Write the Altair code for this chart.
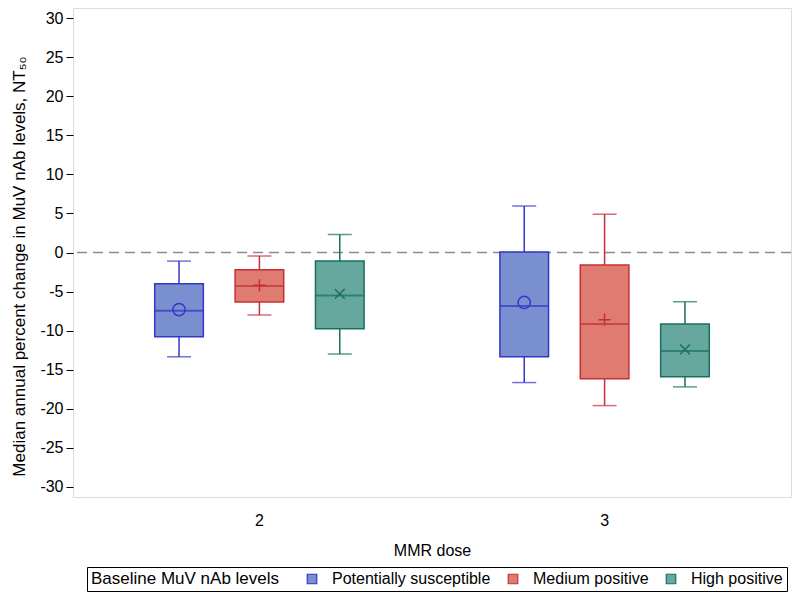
import altair as alt
import pandas as pd

# ---- data ----
doses = ["2", "2", "2", "3", "3", "3"]
groups = ["Potentially susceptible", "Medium positive", "High positive",
          "Potentially susceptible", "Medium positive", "High positive"]
whisker_low = [-13.35, -8.0, -13.0, -16.65, -19.6, -17.2]
q1 = [-10.8, -6.35, -9.75, -13.35, -16.15, -15.9]
median = [-7.45, -4.3, -5.5, -6.85, -9.15, -12.6]
q3 = [-4.0, -2.2, -1.1, 0.05, -1.6, -9.15]
whisker_high = [-1.1, -0.45, 2.3, 5.95, 4.9, -6.3]
mean = [-7.3, -4.2, -5.3, -6.4, -8.6, -12.4]

group_order = ["Potentially susceptible", "Medium positive", "High positive"]
fill_colors = ["#7a8fcf", "#e07b6f", "#66a89e"]
line_colors = ["#3535c8", "#c2303a", "#1a6e62"]
plus_path = "M-1,0L1,0M0,-1L0,1"
x_path = "M-0.8,-0.8L0.8,0.8M-0.8,0.8L0.8,-0.8"
mean_shapes = ["circle", plus_path, x_path]
y_ticks = list(range(-30, 31, 5))

df = pd.DataFrame({
    "dose": doses, "group": groups, "wlo": whisker_low, "q1": q1,
    "median": median, "q3": q3, "whi": whisker_high, "mean": mean,
})

FONT = "Liberation Sans"

x_enc = alt.X("dose:N", scale=alt.Scale(paddingInner=0, paddingOuter=0.04),
              axis=alt.Axis(labelAngle=0, ticks=False, domain=False, labelFontSize=16,
                            labelPadding=15, title="MMR dose", titleFontSize=16,
                            titlePadding=14, titleFontWeight="normal",
                            labelColor="black", titleColor="black"))
xo_enc = alt.XOffset("group:N", sort=group_order,
                     scale=alt.Scale(domain=group_order, paddingInner=0.395, paddingOuter=0.845))
y_scale = alt.Scale(domain=[-31.3, 31.3], nice=False, zero=False)
y_axis = alt.Axis(values=y_ticks, grid=False, domain=False, tickSize=7, tickColor="black",
                  labelFontSize=16, labelColor="black", labelPadding=3,
                  labelExpr="toString(datum.value)",
                  title="Median annual percent change in MuV nAb levels, NT₅₀",
                  titleFontSize=17, titleFontWeight="normal", titleColor="black",
                  titlePadding=11, titleY=258)
# data-derived (sorted) domain so the hidden legends do not swallow the shown one
col_enc = alt.Color("group:N", sort=group_order, scale=alt.Scale(range=line_colors), legend=None)

base = alt.Chart(df)

zero = alt.Chart(pd.DataFrame({"v": [0]})).mark_rule(
    color="#8c8c8c", strokeWidth=1.5, strokeDash=[10, 6]
).encode(y=alt.Y("v:Q", scale=y_scale, axis=y_axis))

whisk = base.mark_rule(strokeWidth=1.5).encode(
    x=x_enc, xOffset=xo_enc,
    y=alt.Y("wlo:Q", scale=y_scale, axis=y_axis), y2="whi:Q", color=col_enc)

legend = alt.Legend(title="Baseline MuV nAb levels", orient="none", legendX=14, legendY=559,
                    direction="horizontal", titleOrient="left", titleFontSize=17,
                    titleFontWeight="normal", titleColor="black", titlePadding=24,
                    titleLimit=400, labelLimit=300,
                    labelFontSize=16, labelColor="black", symbolType="square",
                    symbolSize=90, symbolStrokeWidth=1.2, labelOffset=12, columnPadding=14,
                    strokeColor="black", padding=4, titleBaseline="middle")

boxes = base.mark_bar(strokeWidth=1.5).encode(
    x=x_enc, xOffset=xo_enc,
    y=alt.Y("q1:Q", scale=y_scale, axis=y_axis), y2="q3:Q",
    fill=alt.Fill("group:N", scale=alt.Scale(domain=group_order, range=fill_colors), legend=legend),
    stroke=alt.Stroke("group:N", scale=alt.Scale(domain=group_order, range=line_colors), legend=legend),
)

cap_lo = base.mark_tick(size=24, thickness=1.5).encode(
    x=x_enc, xOffset=xo_enc, y=alt.Y("wlo:Q", scale=y_scale, axis=y_axis), color=col_enc)
cap_hi = base.mark_tick(size=24, thickness=1.5).encode(
    x=x_enc, xOffset=xo_enc, y=alt.Y("whi:Q", scale=y_scale, axis=y_axis), color=col_enc)
med = base.mark_tick(size=48, thickness=2).encode(
    x=x_enc, xOffset=xo_enc, y=alt.Y("median:Q", scale=y_scale, axis=y_axis), color=col_enc)
means = base.mark_point(filled=False, size=150, strokeWidth=1.5, opacity=1).encode(
    x=x_enc, xOffset=xo_enc, y=alt.Y("mean:Q", scale=y_scale, axis=y_axis), color=col_enc,
    shape=alt.Shape("group:N", sort=group_order, scale=alt.Scale(range=mean_shapes), legend=None))

chart = alt.layer(zero, whisk, boxes, cap_lo, cap_hi, med, means).properties(
    width=718, height=489, padding={"left": 2, "top": 0, "right": 0, "bottom": 0}
).configure_view(stroke="#222222", strokeWidth=1.3).configure(font=FONT).configure_axis(
    labelFont=FONT, titleFont=FONT).configure_legend(labelFont=FONT, titleFont=FONT)

chart.save("out.html", embed_options={"renderer": "svg", "actions": False})
